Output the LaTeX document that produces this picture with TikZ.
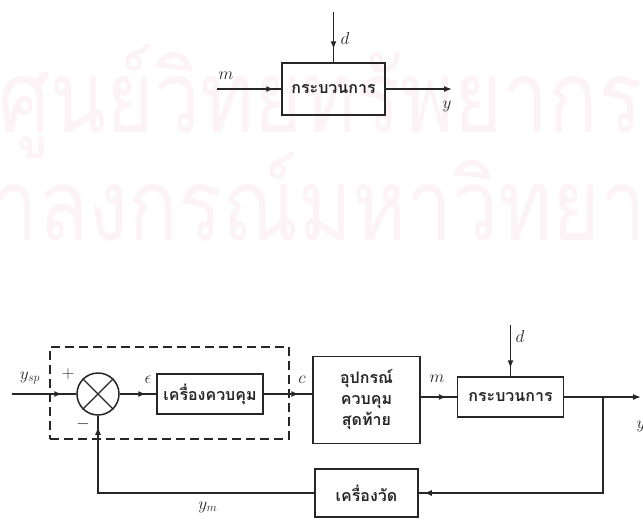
\documentclass[tikz,border=0pt]{standalone}
\usepackage{fontspec}
\usepackage{graphicx}
\usepackage{tikz}
\usetikzlibrary{arrows.meta,positioning,decorations.markings}
\newfontfamily\thaifont[Script=Thai]{Loma}
\definecolor{BlkInk}{HTML}{262626}
\definecolor{MarkPink}{HTML}{FCF3F7}

\begin{document}
\begin{tikzpicture}[
  x=1pt,y=-1pt,
  block/.style={draw=BlkInk,line width=1.5pt,minimum width=106pt,minimum height=40pt,
    align=center,font=\thaifont\bfseries\fontsize{16}{21}\selectfont,inner sep=2pt,text=BlkInk},
  junction/.style={circle,draw=BlkInk,line width=1.5pt,minimum size=42pt,inner sep=0pt},
  dashgrp/.style={draw=BlkInk,line width=1.5pt,dash pattern=on 9pt off 5pt,
    minimum width=239pt,minimum height=92pt},
  wire/.style={draw=BlkInk,line width=1.5pt},
  midtip/.style={wire,postaction={decorate},decoration={markings,
    mark=at position -#1 with {\arrow{Latex[length=8pt,width=6pt]}}}},
  midtip/.default=10pt,
  arrow/.style={wire,-{Latex[length=8pt,width=6pt]}},
  sig/.style={font=\fontsize{17}{19}\selectfont,text=BlkInk,inner sep=1pt},
  watermark/.style={text=MarkPink,font=\thaifont\fontsize{100}{110}\selectfont,inner sep=0pt}
]
  \useasboundingbox (0,0) rectangle (643,520);

  \node[watermark,anchor=base west] (wmtop) at (-2,132) {\scalebox{0.82}[1]{ศูนย์วิทยทรัพยากร}};
  \node[watermark,anchor=base west] (wmlow) at (-112,240) {\scalebox{0.82}[1]{จุฬาลงกรณ์มหาวิทยาลัย}};

  \node[block,minimum width=103pt,minimum height=52pt] (plant) at (333.5,89) {กระบวนการ};
  \coordinate (m-in) at (217,89);
  \coordinate (y-out) at (452,89);
  \coordinate (d-in) at (333.5,12);
  \draw[midtip=7pt] (m-in) -- (plant);
  \draw[arrow] (plant) -- (y-out);
  \draw[midtip=13pt] (d-in) -- (plant);
  \node[sig] (m-lbl) at (226,76) {$m$};
  \node[sig] (d-lbl) at (345,38) {$d$};
  \node[sig] (y-lbl) at (447,106) {$y$};

  \node[dashgrp] (ctrlunit) at (169.5,393) {};
  \node[junction] (sum) at (98,394) {};
  \draw[wire,line width=1.3pt] (sum.north west) -- (sum.south east);
  \draw[wire,line width=1.3pt] (sum.north east) -- (sum.south west);
  \node[block] (ctrl) at (210,394) {เครื่องควบคุม};
  \node[block,minimum width=107pt,minimum height=87pt] (fce) at (366.5,400) {อุปกรณ์\\ควบคุม\\สุดท้าย};
  \node[block] (proc) at (510.5,397) {กระบวนการ};
  \node[block,minimum width=103pt,minimum height=48pt] (meas) at (366.5,493) {เครื่องวัด};

  \coordinate (sp-in) at (12,394);
  \coordinate (d2-in) at (510.5,325);
  \coordinate (tap) at (603,397);
  \coordinate (y2-out) at (641,397);

  \draw[midtip=14pt] (sp-in) -- (sum);
  \draw[midtip] (sum) -- (ctrl);
  \draw[midtip=13pt] (ctrl) -- (ctrl -| fce.west);
  \draw[midtip] (fce.east |- proc) -- (proc);
  \draw[midtip=8pt] (d2-in) -- (proc);
  \draw[arrow] (proc) -- (y2-out);
  \draw[midtip=5pt] (tap) |- (meas);
  \draw[midtip=11pt] (meas) -| (sum);

  \node[sig] (sp-lbl) at (30,378) {$y_{sp}$};
  \node[sig] (plus-lbl) at (68,374) {$+$};
  \node[sig] (minus-lbl) at (83,424) {$-$};
  \node[sig] (e-lbl) at (148,380) {$\epsilon$};
  \node[sig] (c-lbl) at (302,380) {$c$};
  \node[sig] (m2-lbl) at (437,379) {$m$};
  \node[sig] (d2-lbl) at (520,336) {$d$};
  \node[sig] (ym-lbl) at (208,507) {$y_m$};
  \node[sig] (y2-lbl) at (641,426) {$y$};
\end{tikzpicture}
\end{document}
